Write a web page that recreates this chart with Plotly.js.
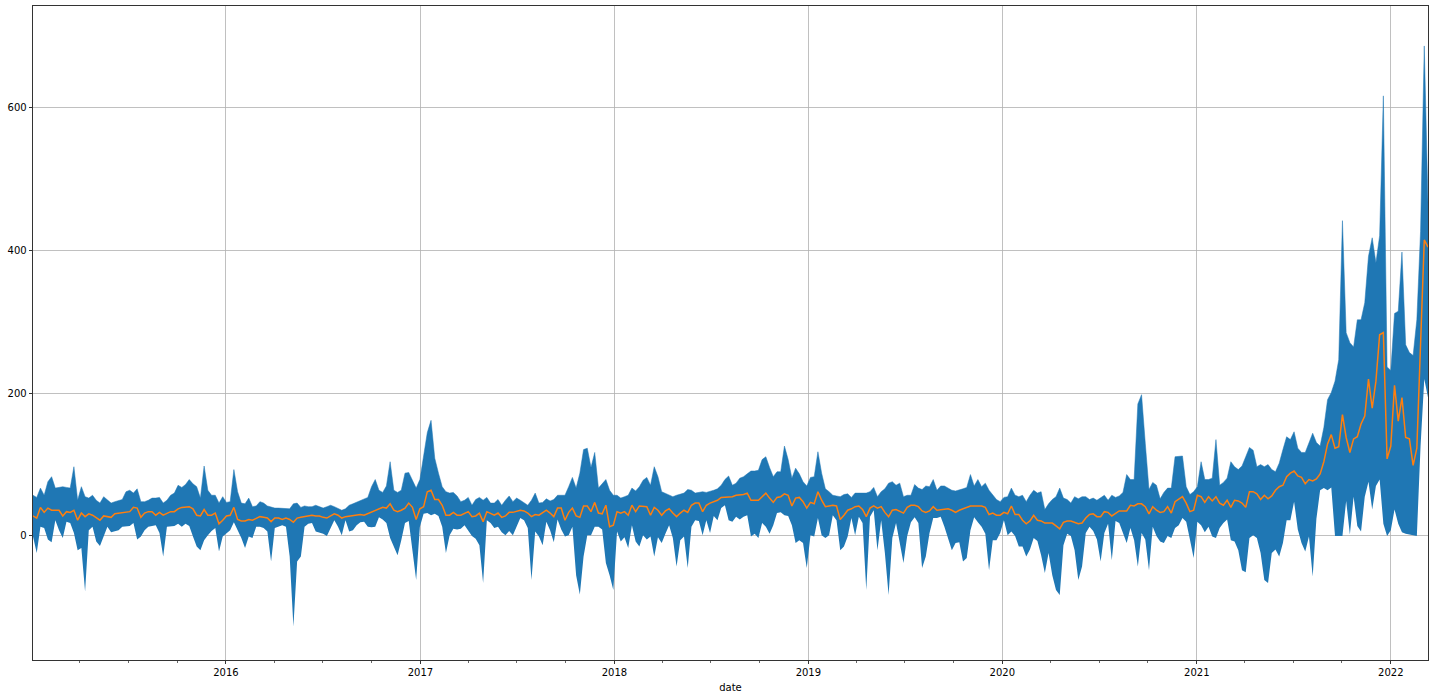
<!DOCTYPE html>
<html>
<head>
<meta charset="utf-8">
<script src="https://cdn.plot.ly/plotly-3.0.1.min.js"></script>
<style>html,body{margin:0;padding:0;background:#fff;}#chart{width:1435px;height:697px;}</style>
</head>
<body>
<div id="chart"></div>
<script>
// weekly series starting 2015-01-03
const startDate = '2015-01-03';
const upper = [
57,54,67,57,76,83,67,68,69,68,67,97,50,69,55,53,57,50,46,55,50,46,48,50,51,62,64,60,66,48,48,50,53,53,54,46,50,57,60,
71,68,72,79,73,69,53,98,64,57,57,46,55,47,48,93,62,46,45,53,41,42,48,46,42,40,39,39,39,38,38,45,46,40,42,41,41,
43,41,39,41,43,41,39,36,38,43,45,47,49,52,54,69,79,64,61,70,104,64,61,64,88,89,79,67,79,112,145,162,109,88,69,62,60,61,
56,48,50,54,43,51,54,50,54,46,46,51,43,50,56,48,53,50,46,43,50,60,46,47,52,49,51,57,57,57,69,82,67,88,121,123,96,117,
67,73,79,64,57,57,53,55,57,67,63,69,78,82,71,97,83,62,60,57,55,57,58,60,65,64,60,61,62,61,62,64,66,71,79,84,71,74,
81,83,87,91,91,92,107,111,96,83,90,90,126,107,81,95,87,76,70,82,83,118,88,66,62,57,56,55,58,59,54,60,60,60,60,62,68,
55,62,66,74,76,71,74,55,57,57,72,67,65,70,69,79,64,70,70,67,64,63,64,66,68,86,70,79,69,74,64,57,51,48,54,55,67,57,
55,57,48,57,64,60,62,37,45,51,55,67,53,51,46,55,52,55,55,51,53,50,54,57,50,57,54,56,61,86,79,79,185,198,130,65,75,
71,52,61,67,67,111,111,112,69,58,62,69,104,79,79,81,135,71,75,81,104,97,93,98,111,124,120,97,100,97,100,93,90,102,121,139,135,146,
123,117,117,132,144,131,126,152,191,201,217,247,442,285,271,265,303,303,327,392,418,383,421,617,237,232,312,315,398,268,257,253,303,427,687,468
];
const lower = [
-1,-24,13,11,-5,-9,22,8,-3,20,18,4,-20,-17,-78,8,13,-8,-14,-1,13,5,7,8,13,14,14,18,-5,-1,8,13,14,15,4,-29,13,14,14,
17,13,17,14,-1,-15,-20,-6,1,7,11,-22,-1,4,8,19,9,-3,-17,-1,-3,13,13,11,6,-36,11,13,15,13,-29,-127,-36,-29,13,17,18,
6,5,3,0,11,22,13,1,22,6,8,15,19,20,13,12,13,26,23,18,-3,-15,-27,-6,18,21,-17,-62,13,31,32,29,31,28,13,-24,1,10,
9,10,15,8,0,-4,-13,-66,22,18,11,13,5,1,7,1,13,25,22,11,-62,6,-1,-13,20,8,-9,23,9,-1,1,13,-55,-82,-29,1,1,13,
13,9,-38,-55,-76,6,-8,-2,-17,15,-8,-15,1,-5,-1,-29,-2,-10,3,15,-3,-43,-6,-1,-45,13,22,21,1,22,4,28,22,39,43,22,20,27,
23,27,29,-1,3,-3,18,13,3,15,32,33,29,28,15,-10,-6,-10,-45,1,-1,25,1,-3,1,29,22,-20,-15,-1,25,1,27,18,-76,27,36,
-20,22,-24,-83,-3,18,-8,-38,0,19,26,18,-45,-29,4,25,25,27,13,-5,-20,-10,-9,-36,-31,8,26,19,13,3,-48,-6,-6,4,22,1,6,0,
-15,-15,-29,-19,-3,-7,-27,-52,-24,-55,-76,-83,-13,3,0,-20,-62,-43,4,13,7,-5,-36,4,17,-34,21,18,4,-10,11,-6,-43,4,-5,-48,13,
0,-8,-10,0,-3,11,15,25,20,-5,-31,20,15,5,13,-1,-3,11,18,23,-6,-8,-20,-48,-51,-3,1,-3,-24,-62,-66,-24,-19,-29,-10,22,22,48,
9,-10,-22,-1,-57,24,64,67,64,68,0,0,0,49,2,55,14,6,55,76,37,70,79,17,0,8,37,17,5,3,2,0,0,126,220,194
];
const mean = [
28,25,40,33,39,36,36,36,28,34,33,36,22,32,27,31,29,25,22,28,27,26,31,32,32,34,34,40,39,26,32,34,34,29,33,29,32,34,34,
38,40,41,41,38,29,28,37,29,29,32,17,22,28,29,40,23,21,21,23,22,25,27,26,25,20,25,25,23,25,23,19,25,26,27,28,29,
28,28,26,25,28,31,29,25,27,28,29,30,30,29,31,33,36,38,40,39,45,36,34,36,39,46,40,23,38,41,62,64,51,51,43,29,29,33,
29,29,32,34,27,28,32,20,34,32,29,32,26,28,33,33,35,36,35,32,27,30,29,33,36,32,27,39,39,22,33,39,28,26,42,42,34,47,
32,31,43,13,15,34,32,34,29,43,34,42,41,41,29,40,36,29,35,38,32,27,32,36,33,43,46,46,34,43,46,48,50,54,54,54,55,57,
57,58,60,50,50,50,55,60,53,47,54,55,59,57,42,53,54,48,39,47,45,62,50,41,42,43,42,23,29,36,38,41,42,37,27,39,42,
39,41,33,27,36,37,35,32,40,43,43,41,35,33,35,41,36,37,38,38,36,33,36,38,39,42,42,42,42,40,30,32,29,29,33,31,42,30,
30,22,17,21,29,22,21,18,18,18,14,10,19,21,21,19,17,18,25,30,31,27,27,34,33,28,31,35,35,35,43,42,45,45,41,31,41,
36,33,34,41,32,48,51,55,46,34,36,57,55,47,55,49,55,46,43,50,40,50,49,46,40,62,62,59,51,57,52,56,64,69,71,83,88,91,
84,82,73,79,77,80,87,104,129,142,123,125,170,138,117,136,139,157,168,220,179,217,282,285,108,126,211,161,194,138,136,99,123,260,415,405
];
const yTicks = [0, 200, 400, 600];

const dates = [];
const d0 = new Date(startDate + 'T00:00:00Z');
for (let i = 0; i < mean.length; i++) {
  const d = new Date(d0.getTime() + i * 7 * 86400000);
  dates.push(d.toISOString().slice(0, 10));
}

const traces = [
  {x: dates, y: lower, type: 'scatter', mode: 'lines', line: {width: 0, color: '#1f77b4'}, hoverinfo: 'skip', showlegend: false},
  {x: dates, y: upper, type: 'scatter', mode: 'lines', fill: 'tonexty', fillcolor: '#1f77b4', line: {width: 0.5, color: '#1f77b4'}, showlegend: false},
  {x: dates, y: mean, type: 'scatter', mode: 'lines', line: {width: 1.5, color: '#ff7f0e'}, showlegend: false}
];

const font = {family: 'DejaVu Sans, sans-serif', size: 10, color: '#000'};
const layout = {
  width: 1435, height: 697,
  margin: {l: 33, r: 7, t: 6, b: 37},
  paper_bgcolor: '#fff', plot_bgcolor: '#fff',
  font: font,
  showlegend: false,
  xaxis: {
    type: 'date',
    range: [dates[0], dates[dates.length - 1]],
    tick0: '2016-01-01', dtick: 'M12', tickformat: '%Y',
    ticks: 'outside', ticklen: 3.5, tickwidth: 0.8, tickcolor: '#000',
    showgrid: true, gridcolor: '#b0b0b0', gridwidth: 0.8,
    showline: true, linecolor: '#000', linewidth: 0.8, mirror: true,
    zeroline: false,
    minor: {dtick: 'M3', tick0: '2015-01-01', ticks: 'outside', ticklen: 2, tickwidth: 0.6, tickcolor: '#000', showgrid: false},
    title: {text: 'date', font: font, standoff: 6},
    tickfont: font
  },
  yaxis: {
    range: [-174, 743],
    tickvals: yTicks, ticktext: yTicks.map(String),
    ticks: 'outside', ticklen: 3.5, tickwidth: 0.8, tickcolor: '#000',
    showgrid: true, gridcolor: '#b0b0b0', gridwidth: 0.8,
    showline: true, linecolor: '#000', linewidth: 0.8, mirror: true,
    zeroline: false,
    tickfont: font
  }
};

Plotly.newPlot('chart', traces, layout, {displayModeBar: false, staticPlot: true});
</script>
</body>
</html>
